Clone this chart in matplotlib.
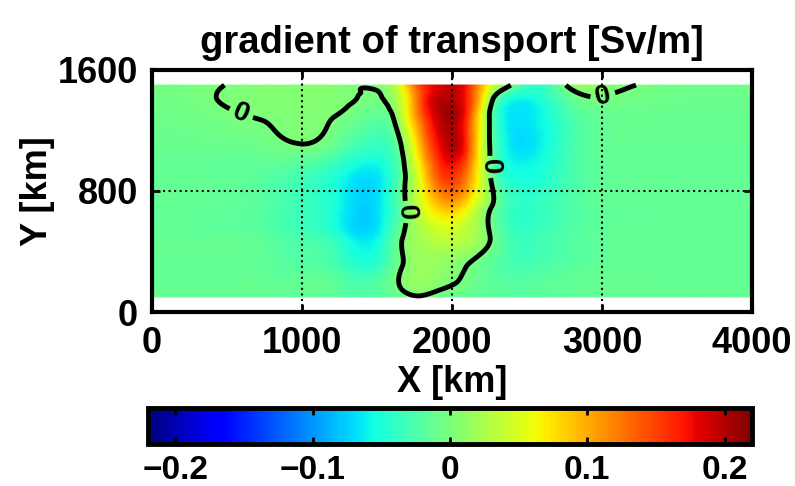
import numpy as np
import matplotlib
matplotlib.use('Agg')
import matplotlib.pyplot as plt
import matplotlib.tri as mtri

plt.rcParams['font.family'] = ['Liberation Sans', 'DejaVu Sans']
plt.rcParams['font.weight'] = 'bold'
plt.rcParams['axes.labelweight'] = 'bold'
plt.rcParams['axes.titleweight'] = 'bold'
plt.rcParams['font.size'] = 26
plt.rcParams['axes.linewidth'] = 3

# grid nodes [km]
x_km = [0, 250, 500, 750, 1000, 1250, 1500, 1650, 1800, 1950, 2100, 2250,
        2400, 2550, 2750, 3000, 3250, 3500, 4000]
y_km = [100, 300, 500, 700, 900, 1100, 1300, 1400, 1500]

# gradient of transport [Sv/m], one list per y node
g_y100 = [-0.013, -0.013, -0.013, -0.014, -0.016, -0.020, -0.024, -0.010, -0.002,
          -0.012, -0.015, -0.018, -0.020, -0.020, -0.016, -0.013, -0.013, -0.013, -0.013]
g_y300 = [-0.013, -0.013, -0.013, -0.015, -0.020, -0.030, -0.038, -0.004, 0.015,
          0.010, -0.0005, -0.017, -0.027, -0.027, -0.020, -0.014, -0.013, -0.013, -0.013]
g_y500 = [-0.013, -0.013, -0.014, -0.018, -0.028, -0.048, -0.060, -0.008, 0.025,
          0.040, 0.030, 0.001, -0.032, -0.034, -0.024, -0.015, -0.013, -0.013, -0.013]
g_y700 = [-0.013, -0.013, -0.015, -0.020, -0.034, -0.056, -0.068, -0.020, 0.050,
          0.095, 0.070, 0.006, -0.037, -0.040, -0.027, -0.015, -0.013, -0.013, -0.013]
g_y900 = [-0.013, -0.013, -0.015, -0.019, -0.030, -0.052, -0.066, -0.020, 0.070,
          0.155, 0.120, 0.004, -0.050, -0.052, -0.033, -0.016, -0.013, -0.013, -0.013]
g_y1100 = [-0.011, -0.011, -0.010, -0.007, -0.001, -0.017, -0.038, -0.006, 0.105,
           0.190, 0.155, 0.001, -0.065, -0.065, -0.036, -0.014, -0.012, -0.012, -0.012]
g_y1300 = [-0.009, -0.006, -0.002, 0.002, 0.004, -0.001, -0.015, 0.025, 0.140,
           0.205, 0.160, -0.001, -0.066, -0.062, -0.032, -0.012, -0.010, -0.011, -0.011]
g_y1400 = [-0.006, -0.003, 0.001, 0.004, 0.005, 0.003, -0.003, 0.035, 0.150,
           0.200, 0.165, 0.020, -0.056, -0.056, -0.022, -0.003, -0.007, -0.009, -0.009]
g_y1500 = [-0.005, -0.003, 0.0003, 0.004, 0.005, 0.005, 0.005, 0.050, 0.160,
           0.190, 0.170, 0.060, -0.003, -0.045, -0.002, 0.006, -0.0005, -0.006, -0.008]

grad = np.array([g_y100, g_y300, g_y500, g_y700, g_y900, g_y1100,
                 g_y1300, g_y1400, g_y1500])

X, Y = np.meshgrid(x_km, y_km)
tri = mtri.Triangulation(X.ravel(), Y.ravel())
interp = mtri.CubicTriInterpolator(tri, grad.ravel(), kind='min_E')
refiner = mtri.UniformTriRefiner(tri)
tri_f, grad_f = refiner.refine_field(grad.ravel(), triinterpolator=interp, subdiv=4)

fig = plt.figure(figsize=(7.95, 4.86), dpi=100)
ax = fig.add_axes([152 / 795, 1 - 312 / 486, 600 / 795, 242 / 486])

pc = ax.tripcolor(tri_f, grad_f, shading='gouraud', cmap='jet',
                  vmin=-0.22, vmax=0.22)
cs = ax.tricontour(tri_f, grad_f, levels=[0], colors='k', linewidths=3.5)
ax.clabel(cs, fmt='%g', inline=True, fontsize=20,
          manual=[(567, 1256), (1687, 661), (2276, 959), (3000, 1448)])

ax.set_xlim(0, 4000)
ax.set_ylim(0, 1600)
ax.set_xticks([0, 1000, 2000, 3000, 4000])
ax.set_yticks([0, 800, 1600])
ax.tick_params(direction='in', top=True, right=True, length=6, width=2, pad=10)
ax.grid(True, linestyle=':', color='k', linewidth=1.5)
ax.set_axisbelow(False)

ax.set_title('gradient of transport [Sv/m]', fontsize=27.5, pad=12)
ax.set_xlabel('X [km]', labelpad=3)
ax.set_ylabel('Y [km]', labelpad=2)

cax = fig.add_axes([148 / 795, 1 - 444 / 486, 604 / 795, 36 / 486])
cb = fig.colorbar(pc, cax=cax, orientation='horizontal')
cb.set_ticks([-0.2, -0.1, 0, 0.1, 0.2])
cb.set_ticklabels(['\u22120.2', '\u22120.1', '0', '0.1', '0.2'])
cax.tick_params(direction='in', top=True, bottom=True, length=5, width=2, pad=8,
                labelsize=24)
cb.outline.set_linewidth(3.5)

fig.savefig('out.png', dpi=100)
